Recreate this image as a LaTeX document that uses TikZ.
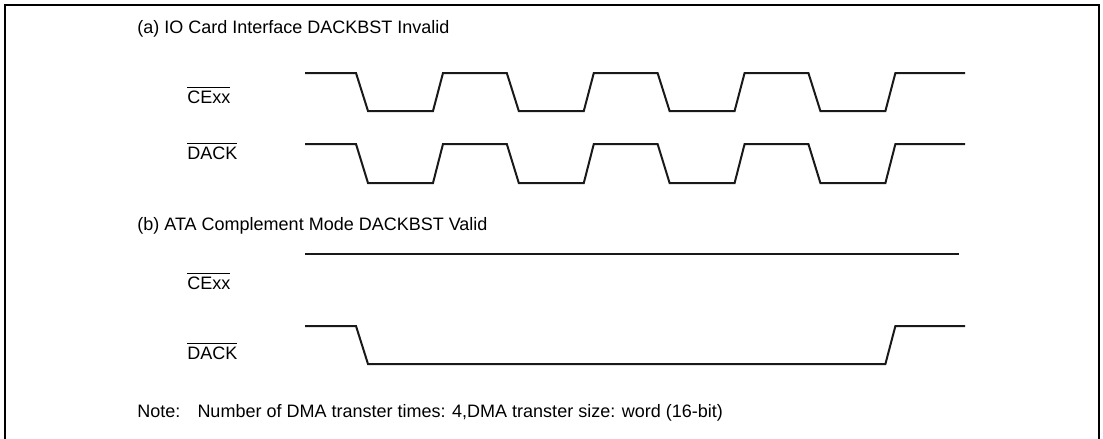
\documentclass[tikz,border=0pt]{standalone}
\usepackage{fontspec}
\setmainfont{Liberation Sans}
\usetikzlibrary{positioning}
\def\Tstart{305}
\def\Tend{965}
\def\Tperiod{150.8}
\def\Fall{356}
\def\Rise{433}
\def\Edge{11}
\newcommand{\sigbar}[1]{$\overline{\mbox{#1}}$}

\begin{document}
\begin{tikzpicture}[
  x=0.5pt, y=-0.5pt, line join=miter,
  wave/.style ={black!90, line width=1pt},
  frame/.style={black, line width=1.3pt},
  txt/.style  ={anchor=base west, inner sep=0pt, font=\fontsize{9}{11}\selectfont}
]
\useasboundingbox (0,0) rectangle (1103,439);

% --- Frame (open at the bottom) ---------------------------------------
\draw[frame] (5,439) -- (5,5) -- (1099,5) -- (1099,439);

% --- Titles and note --------------------------------------------------
\node[txt] (titleA) at (137,33) {(a) IO Card Interface DACKBST Invalid};
\node[txt] (titleB) at (137,230) {(b) ATA Complement Mode DACKBST Valid};
\node[txt] (note) at (137,417)
  {Note:\hspace{0.95em}Number of DMA transter times: 4,DMA transter size: word (16-bit)};

% --- Signal names -----------------------------------------------------
\node[txt] (cexxA) at (187,103) {\sigbar{CExx}};
\node[txt] (dackA) at (187,159) {\sigbar{DACK}};
\node[txt] (cexxB) at (187,289) {\sigbar{CExx}};
\node[txt] (dackB) at (187,359) {\sigbar{DACK}};

% --- (a) four toggling cycles on both strobes -------------------------
\foreach \hi/\lo in {73/111,144/183}
  \draw[wave] (\Tstart,\hi)
    \foreach \k in {0,...,3} {
      -- ({\Fall+\k*\Tperiod},\hi) -- ({\Fall+\Edge+1+\k*\Tperiod},\lo)
      -- ({\Rise+\k*\Tperiod},\lo) -- ({\Rise+\Edge-1+\k*\Tperiod},\hi)
    } -- (\Tend,\hi);

% --- (b) CExx stays high, DACK held low over the burst ----------------
\draw[wave] (\Tstart,254) -- (959,254);
\draw[wave] (\Tstart,326) -- (\Fall,326) -- (\Fall+\Edge+1,364)
  -- ({\Rise+3*\Tperiod},364) -- ({\Rise+\Edge-1+3*\Tperiod},326) -- (\Tend,326);

\end{tikzpicture}
\end{document}
